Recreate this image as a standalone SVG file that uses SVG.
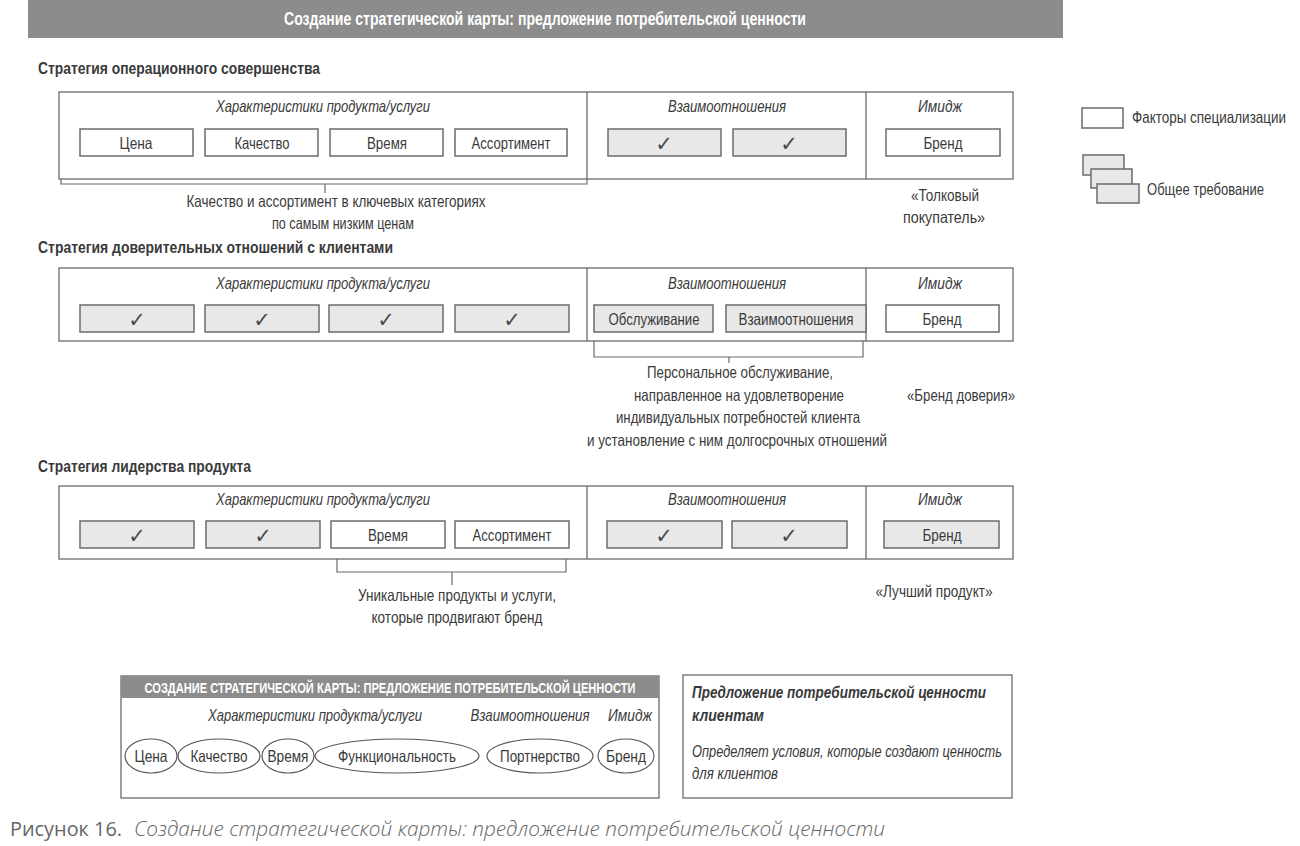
<svg xmlns="http://www.w3.org/2000/svg" width="1300" height="846" viewBox="0 0 1300 846">
<style>
.t{font-family:"Liberation Sans",Arial,sans-serif;fill:#3a3a3a;font-size:16.5px}
.c{text-anchor:middle}
.it{font-style:italic}
.b{font-weight:bold}
.h{font-size:16px}
.ck{font-family:"DejaVu Sans",sans-serif;font-size:21px;fill:#4a4a4a;text-anchor:middle}
.box{fill:#fff;stroke:#6b6b6b;stroke-width:1.5}
.gbox{fill:#e8e8e8;stroke:#6b6b6b;stroke-width:1.5}
.frame{fill:none;stroke:#6b6b6b;stroke-width:1.3}
.br{fill:none;stroke:#6b6b6b;stroke-width:1.2}
.ell{fill:#fff;stroke:#555;stroke-width:1.2}
</style>
<rect width="1300" height="846" fill="#fff"/>
<g id="title">
<rect x="28" y="0" width="1035" height="38" fill="#8c8c8c"/>
<text class="t c b" x="545" y="25" style="fill:#fff;font-size:18px" textLength="522" lengthAdjust="spacingAndGlyphs">Создание стратегической карты: предложение потребительской ценности</text>
</g>
<g id="legend">
<rect class="box" x="1082" y="108" width="41" height="20"/>
<text class="t" x="1132" y="123" textLength="154" lengthAdjust="spacingAndGlyphs">Факторы специализации</text>
<rect class="gbox" x="1083" y="155" width="41" height="20"/>
<rect class="gbox" x="1091" y="169" width="41" height="19"/>
<rect class="gbox" x="1097" y="184" width="42" height="19"/>
<text class="t" x="1147" y="195" textLength="117" lengthAdjust="spacingAndGlyphs">Общее требование</text>
</g>
<g id="row1">
<text class="t b h" x="38" y="74" textLength="282" lengthAdjust="spacingAndGlyphs">Стратегия операционного совершенства</text>
<rect class="frame" x="59" y="92" width="954" height="87"/>
<line class="frame" x1="587" y1="92" x2="587" y2="179"/>
<line class="frame" x1="866" y1="92" x2="866" y2="179"/>
<text class="t c it" x="323" y="112" textLength="214" lengthAdjust="spacingAndGlyphs">Характеристики продукта/услуги</text>
<text class="t c it" x="727" y="112" textLength="118" lengthAdjust="spacingAndGlyphs">Взаимоотношения</text>
<text class="t c it" x="940" y="112" textLength="44" lengthAdjust="spacingAndGlyphs">Имидж</text>
<rect class="box" x="80" y="129" width="113" height="27"/><text class="t c" x="136" y="149" textLength="33" lengthAdjust="spacingAndGlyphs">Цена</text>
<rect class="box" x="205" y="129" width="113" height="27"/><text class="t c" x="262" y="149" textLength="55" lengthAdjust="spacingAndGlyphs">Качество</text>
<rect class="box" x="330" y="129" width="113" height="27"/><text class="t c" x="387" y="149" textLength="40" lengthAdjust="spacingAndGlyphs">Время</text>
<rect class="box" x="455" y="129" width="112" height="27"/><text class="t c" x="511" y="149" textLength="79" lengthAdjust="spacingAndGlyphs">Ассортимент</text>
<rect class="gbox" x="608" y="129" width="113" height="27"/><text class="ck" x="664" y="151">✓</text>
<rect class="gbox" x="733" y="129" width="113" height="27"/><text class="ck" x="789" y="151">✓</text>
<rect class="box" x="886" y="129" width="114" height="27"/><text class="t c" x="943" y="149" textLength="39" lengthAdjust="spacingAndGlyphs">Бренд</text>
<text class="t c" x="336" y="207" textLength="299" lengthAdjust="spacingAndGlyphs">Качество и ассортимент в ключевых категориях</text>
<text class="t c" x="343" y="229" textLength="142" lengthAdjust="spacingAndGlyphs">по самым низким ценам</text>
<text class="t c" x="945" y="201" textLength="68" lengthAdjust="spacingAndGlyphs">«Толковый</text>
<text class="t c" x="944" y="223" textLength="82" lengthAdjust="spacingAndGlyphs">покупатель»</text>
</g>
<g id="row2">
<text class="t b h" x="38" y="253" textLength="355" lengthAdjust="spacingAndGlyphs">Стратегия доверительных отношений с клиентами</text>
<rect class="frame" x="59" y="268" width="954" height="73"/>
<line class="frame" x1="587" y1="268" x2="587" y2="341"/>
<line class="frame" x1="866" y1="268" x2="866" y2="341"/>
<text class="t c it" x="323" y="289" textLength="214" lengthAdjust="spacingAndGlyphs">Характеристики продукта/услуги</text>
<text class="t c it" x="727" y="289" textLength="118" lengthAdjust="spacingAndGlyphs">Взаимоотношения</text>
<text class="t c it" x="940" y="289" textLength="44" lengthAdjust="spacingAndGlyphs">Имидж</text>
<rect class="gbox" x="80" y="305" width="114" height="27"/><text class="ck" x="137" y="327">✓</text>
<rect class="gbox" x="205" y="305" width="114" height="27"/><text class="ck" x="262" y="327">✓</text>
<rect class="gbox" x="329" y="305" width="114" height="27"/><text class="ck" x="386" y="327">✓</text>
<rect class="gbox" x="455" y="305" width="114" height="27"/><text class="ck" x="512" y="327">✓</text>
<rect class="gbox" x="594" y="305" width="119" height="27"/><text class="t c" x="654" y="325" textLength="91" lengthAdjust="spacingAndGlyphs">Обслуживание</text>
<rect class="gbox" x="726" y="305" width="140" height="27"/><text class="t c" x="796" y="325" textLength="115" lengthAdjust="spacingAndGlyphs">Взаимоотношения</text>
<rect class="box" x="886" y="305" width="113" height="27"/><text class="t c" x="942" y="325" textLength="39" lengthAdjust="spacingAndGlyphs">Бренд</text>
<text class="t c" x="740" y="378" textLength="186" lengthAdjust="spacingAndGlyphs">Персональное обслуживание,</text>
<text class="t c" x="739" y="401" textLength="210" lengthAdjust="spacingAndGlyphs">направленное на удовлетворение</text>
<text class="t c" x="738" y="423" textLength="244" lengthAdjust="spacingAndGlyphs">индивидуальных потребностей клиента</text>
<text class="t c" x="737" y="446" textLength="300" lengthAdjust="spacingAndGlyphs">и установление с ним долгосрочных отношений</text>
<text class="t c" x="961" y="401" textLength="108" lengthAdjust="spacingAndGlyphs">«Бренд доверия»</text>
</g>
<g id="row3">
<text class="t b h" x="38" y="472" textLength="213" lengthAdjust="spacingAndGlyphs">Стратегия лидерства продукта</text>
<rect class="frame" x="59" y="486" width="954" height="73"/>
<line class="frame" x1="587" y1="486" x2="587" y2="559"/>
<line class="frame" x1="866" y1="486" x2="866" y2="559"/>
<text class="t c it" x="323" y="505" textLength="214" lengthAdjust="spacingAndGlyphs">Характеристики продукта/услуги</text>
<text class="t c it" x="727" y="505" textLength="118" lengthAdjust="spacingAndGlyphs">Взаимоотношения</text>
<text class="t c it" x="940" y="505" textLength="44" lengthAdjust="spacingAndGlyphs">Имидж</text>
<rect class="gbox" x="80" y="521" width="114" height="27"/><text class="ck" x="137" y="543">✓</text>
<rect class="gbox" x="206" y="521" width="114" height="27"/><text class="ck" x="263" y="543">✓</text>
<rect class="box" x="331" y="521" width="114" height="27"/><text class="t c" x="388" y="541" textLength="40" lengthAdjust="spacingAndGlyphs">Время</text>
<rect class="box" x="455" y="521" width="114" height="27"/><text class="t c" x="512" y="541" textLength="79" lengthAdjust="spacingAndGlyphs">Ассортимент</text>
<rect class="gbox" x="607" y="521" width="115" height="27"/><text class="ck" x="664" y="543">✓</text>
<rect class="gbox" x="732" y="521" width="115" height="27"/><text class="ck" x="789" y="543">✓</text>
<rect class="gbox" x="884" y="521" width="115" height="27"/><text class="t c" x="942" y="541" textLength="39" lengthAdjust="spacingAndGlyphs">Бренд</text>
<text class="t c" x="457" y="601" textLength="198" lengthAdjust="spacingAndGlyphs">Уникальные продукты и услуги,</text>
<text class="t c" x="457" y="623" textLength="171" lengthAdjust="spacingAndGlyphs">которые продвигают бренд</text>
<text class="t c" x="934" y="597" textLength="117" lengthAdjust="spacingAndGlyphs">«Лучший продукт»</text>
</g>
<g id="connectors">
<path class="br" d="M61 179 V184 H587 V179 M325 184 V193"/>
<path class="br" d="M594 341 V357 H863 V341 M729 357 V363"/>
<path class="br" d="M337 559 V572 H566 V559 M452 572 V585"/>
</g>
<g id="summary">
<rect class="frame" x="121" y="676" width="538" height="122"/>
<rect x="121" y="676" width="538" height="22" fill="#8c8c8c"/>
<text class="t c b" x="390" y="693" style="fill:#fff;font-size:14.5px" textLength="491" lengthAdjust="spacingAndGlyphs">СОЗДАНИЕ СТРАТЕГИЧЕСКОЙ КАРТЫ: ПРЕДЛОЖЕНИЕ ПОТРЕБИТЕЛЬСКОЙ ЦЕННОСТИ</text>
<text class="t c it" x="315" y="721" textLength="214" lengthAdjust="spacingAndGlyphs">Характеристики продукта/услуги</text>
<text class="t c it" x="530" y="721" textLength="119" lengthAdjust="spacingAndGlyphs">Взаимоотношения</text>
<text class="t c it" x="630" y="721" textLength="44" lengthAdjust="spacingAndGlyphs">Имидж</text>
<ellipse class="ell" cx="151" cy="756" rx="26" ry="17"/><text class="t c" x="151" y="762" textLength="33" lengthAdjust="spacingAndGlyphs">Цена</text>
<ellipse class="ell" cx="219" cy="756" rx="41" ry="17"/><text class="t c" x="219" y="762" textLength="57" lengthAdjust="spacingAndGlyphs">Качество</text>
<ellipse class="ell" cx="288" cy="756" rx="26" ry="17"/><text class="t c" x="288" y="762" textLength="41" lengthAdjust="spacingAndGlyphs">Время</text>
<ellipse class="ell" cx="397" cy="756" rx="82" ry="17"/><text class="t c" x="397" y="762" textLength="118" lengthAdjust="spacingAndGlyphs">Функциональность</text>
<ellipse class="ell" cx="540" cy="756" rx="53" ry="17"/><text class="t c" x="540" y="762" textLength="80" lengthAdjust="spacingAndGlyphs">Портнерство</text>
<ellipse class="ell" cx="626" cy="756" rx="28" ry="17"/><text class="t c" x="626" y="762" textLength="40" lengthAdjust="spacingAndGlyphs">Бренд</text>
</g>
<g id="definition">
<rect class="frame" x="683" y="675" width="329" height="123"/>
<text class="t b it" x="692" y="698" textLength="294" lengthAdjust="spacingAndGlyphs">Предложение потребительской ценности</text>
<text class="t b it" x="692" y="721" textLength="72" lengthAdjust="spacingAndGlyphs">клиентам</text>
<text class="t it" x="692" y="757" textLength="310" lengthAdjust="spacingAndGlyphs">Определяет условия, которые создают ценность</text>
<text class="t it" x="692" y="779" textLength="86" lengthAdjust="spacingAndGlyphs">для клиентов</text>
</g>
<g id="caption">
<text x="10" y="836" style="font-family:'Open Sans','Liberation Sans',sans-serif;font-size:20px;fill:#666" textLength="112" lengthAdjust="spacingAndGlyphs">Рисунок 16.</text>
<text x="134" y="836" style="font-family:'Open Sans','Liberation Sans',sans-serif;font-size:20px;font-style:italic;font-weight:300;fill:#666" textLength="751" lengthAdjust="spacingAndGlyphs">Создание стратегической карты: предложение потребительской ценности</text>
</g>
</svg>
